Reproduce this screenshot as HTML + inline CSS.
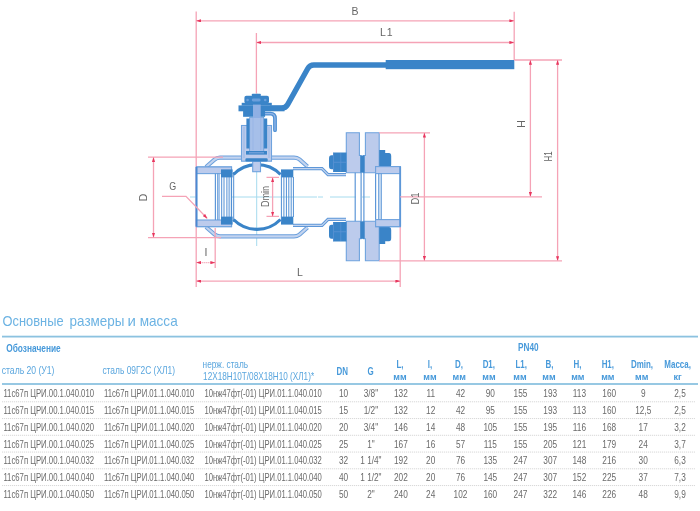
<!DOCTYPE html>
<html><head><meta charset="utf-8">
<style>
html,body{margin:0;padding:0;background:#fff;}
body{width:700px;height:511px;overflow:hidden;}
svg{display:block;will-change:transform;filter:blur(0.45px);font-family:"Liberation Sans",sans-serif;}
.r{stroke:#f5a3b6;stroke-width:1.3;fill:none;}
.c{stroke:#a6dbee;stroke-width:1;fill:none;}
.lb{fill:#bccbec;stroke:#6fa3de;stroke-width:1.1;}
.db{fill:#3a84c8;}
.ol{fill:none;stroke:#5d97d8;stroke-width:1.2;}
.lab{fill:#666;font-size:10.5px;}
.hd{fill:#4699da;font-weight:bold;}
.hn{fill:#5aa6de;}
.v{fill:#6a6a6a;font-size:10.1px;}
</style></head><body>
<svg width="700" height="511" viewBox="0 0 700 511">
<defs>
<marker id="ae" viewBox="0 0 6 4" refX="6" refY="2" markerWidth="5" markerHeight="3.2" orient="auto" markerUnits="userSpaceOnUse"><path d="M0,0 L6,2 L0,4 z" fill="#e8365e"/></marker>
<marker id="as" viewBox="0 0 6 4" refX="0" refY="2" markerWidth="5" markerHeight="3.2" orient="auto" markerUnits="userSpaceOnUse"><path d="M6,0 L0,2 L6,4 z" fill="#e8365e"/></marker>
</defs>

<!-- ============ DRAWING ============ -->
<path class="r" d="M196.2 11.5 V287 M400.2 226.6 V287"/>
<!-- center lines -->
<path class="c" d="M190 197 H317 M318 197 H323 M330 197 H356 M362 197 H370 M377 197 H401"/>
<path class="c" d="M256.7 93 V246"/>

<!-- body shell -->
<g fill="none" stroke-linecap="butt">
<path d="M206 167 L214.5 159.6 Q216.8 157.6 220 157.6 H243 M270 157.6 H294 Q297 157.6 299.5 159.4 L307.5 166.5 M206 227 L214.5 234.4 Q216.8 236.4 220 236.4 H294 Q297 236.4 299.5 234.6 L307.5 227.5" stroke="#6a9fdc" stroke-width="4.2"/>
<path d="M206 167 L214.5 159.6 Q216.8 157.6 220 157.6 H243 M270 157.6 H294 Q297 157.6 299.5 159.4 L307.5 166.5 M206 227 L214.5 234.4 Q216.8 236.4 220 236.4 H294 Q297 236.4 299.5 234.6 L307.5 227.5" stroke="#c3d4ef" stroke-width="2.2"/>
<!-- pipe neck -->
<path d="M293 168.7 H322 L328 174.7 H346 M293 225.3 H322 L328 219.3 H346" stroke="#5d97d8" stroke-width="3.2"/>
<path d="M293 168.7 H322 L328 174.7 H346 M293 225.3 H322 L328 219.3 H346" stroke="#c3d4ef" stroke-width="1.2"/>
</g>

<!-- left end cap -->
<rect x="196.5" y="167" width="35" height="59.6" fill="#fff" stroke="#5d97d8" stroke-width="1.2"/>
<rect x="196.5" y="167" width="35" height="6.6" class="lb"/>
<rect x="196.5" y="220" width="35" height="6.6" class="lb"/>
<path d="M196.5 167 V226.6" stroke="#4a8ad2" stroke-width="2" fill="none"/>
<path class="ol" d="M215.4 173.6 V220 M217.8 173.6 V220"/>

<!-- left seat -->
<rect x="221" y="169.4" width="11.6" height="8" class="db"/>
<rect x="221" y="216.6" width="11.6" height="8" class="db"/>
<path d="M221.7 177 V217 M224 177 V217 M226.9 177 V217 M229.1 177 V217 M231.4 177 V217 M233.7 172 V222" stroke="#4f8ed4" stroke-width="1" fill="none"/>
<path d="M219.2 173.6 V220" stroke="#6a9fdc" stroke-width="0.9" fill="none"/>
<!-- right seat -->
<rect x="281" y="169.4" width="12.3" height="8" class="db"/>
<rect x="281" y="216.6" width="12.3" height="8" class="db"/>
<path d="M281.4 172 V222 M283.9 177 V217 M286.4 177 V217 M288.8 177 V217 M291.2 177 V217 M293.4 177 V217" stroke="#4f8ed4" stroke-width="1" fill="none"/>

<!-- ball -->
<path d="M233.5 174.5 A33 33 0 0 1 280.5 174.5 M233.5 219.5 A33 33 0 0 0 280.5 219.5" fill="none" stroke="#3a84c8" stroke-width="3.2"/>

<!-- stem bottom -->
<rect x="252.7" y="161.4" width="7.8" height="10.3" class="lb"/>
<!-- bonnet -->
<rect x="241.5" y="125.5" width="30" height="35.7" class="lb"/>
<path d="M244 127 V158 M269 127 V158" stroke="#8fb3e6" stroke-width="0.8" fill="none"/>
<rect x="246.4" y="118.5" width="20.8" height="30" class="db"/>
<rect x="249.7" y="117.5" width="14.1" height="34" fill="#a6bfe9" stroke="#5d97d8" stroke-width="0.7"/>
<path d="M253 118 V150 M260.7 118 V150" stroke="#94b3e6" stroke-width="0.7" fill="none"/>
<rect x="246" y="151" width="21" height="3.6" class="db"/>
<rect x="249" y="152.4" width="15" height="0.9" fill="#8fb0e4"/>
<rect x="245.4" y="158.3" width="22.3" height="3.2" rx="1.2" class="db"/>
<!-- hook -->
<path d="M262 113.6 H270.5 Q275 113.6 275 118.5 V130.2" fill="none" stroke="#4d8fd3" stroke-width="3.8" stroke-linecap="round"/>
<path d="M264 113.6 H270.5 Q275 113.6 275 118.5 V130.2" fill="none" stroke="#92b6e8" stroke-width="1.3" stroke-linecap="round"/>
<!-- under-plate block -->
<rect x="243.1" y="111" width="22" height="5.8" class="db"/>
<!-- handle plate -->
<rect x="238.5" y="105.4" width="46" height="5.9" class="db"/>
<rect x="241.7" y="102.8" width="30.1" height="2.8" class="db"/>
<rect x="244.4" y="95.8" width="24.6" height="7.6" rx="2" class="db"/>
<rect x="251.8" y="93.7" width="9" height="2.6" rx="0.8" class="db"/>
<g fill="#6b9fdc"><circle cx="247.6" cy="100" r="1.3"/><circle cx="265.2" cy="100" r="1.3"/><rect x="251.8" y="98.6" width="8.8" height="2.8" rx="1.3"/></g>
<!-- handle -->
<path d="M270 108.2 H281.6 Q285.6 108.2 287.6 104.7 L307.8 68.5 Q309.8 65 313.8 65 H390" fill="none" stroke="#3a84c8" stroke-width="5.4" stroke-linejoin="round"/>
<rect x="253" y="104.6" width="7.7" height="13.4" fill="#8fb0e4"/>
<rect x="385.7" y="60" width="128.6" height="9.2" class="db"/>

<!-- flanges -->
<path d="M346.3 132.8 H359.4 V155.5 H361 V172.7 H346.3 Z" class="lb"/>
<path d="M365.4 132.8 H379.2 V172.7 H363.5 V155.5 H365.4 Z" class="lb"/>
<path d="M346.3 260.7 H359.4 V238.8 H361 V221.3 H346.3 Z" class="lb"/>
<path d="M365.4 260.7 H379.2 V221.3 H363.5 V238.8 H365.4 Z" class="lb"/>
<rect x="360.3" y="155.5" width="4.4" height="17.2" class="db"/>
<rect x="360.3" y="221.3" width="4.4" height="17.5" class="db"/>
<!-- bore lines -->
<path class="ol" d="M355.2 172.7 V221.3 M361.1 172.7 V221.3 M363.9 172.7 V221.3"/>

<!-- nuts -->
<g class="db">
<path d="M333 152.5 H346.5 V172 H333 Z"/>
<path d="M333 155.3 H331.5 Q329 155.3 329 158.5 V166 Q329 169.2 331.5 169.2 H333 Z"/>
<path d="M333 222 H346.5 V241.5 H333 Z"/>
<path d="M333 224.8 H331.5 Q329 224.8 329 228 V235.5 Q329 238.7 331.5 238.7 H333 Z"/>
</g>
<g fill="#5b93d4"><rect x="333.2" y="153" width="0.8" height="18.5"/><rect x="334" y="161.8" width="12" height="0.8"/><rect x="340.5" y="153" width="0.7" height="18.5"/>
<rect x="333.2" y="222.5" width="0.8" height="18.5"/><rect x="334" y="231.4" width="12" height="0.8"/><rect x="340.5" y="222.5" width="0.7" height="18.5"/></g>
<rect x="379.2" y="150" width="6" height="17" class="db"/>
<path d="M385 153 H389 Q391.2 153 391.2 156 V164 Q391.2 167.3 389 167.3 H385 Z" class="db"/>
<rect x="379.2" y="227" width="6" height="17" class="db"/>
<path d="M385 227 H389 Q391.2 227 391.2 230 V238 Q391.2 241.3 389 241.3 H385 Z" class="db"/>

<!-- right end fitting -->
<rect x="375.6" y="166.6" width="24.6" height="60" fill="#fff" stroke="#5d97d8" stroke-width="1.2"/>
<rect x="375.6" y="166.6" width="24.6" height="7" class="lb"/>
<rect x="375.6" y="219.6" width="24.6" height="7" class="lb"/>
<path class="ol" d="M378.8 173.6 V219.6 M381.2 173.6 V219.6"/>
<path d="M400.2 166.6 V226.6" stroke="#5d97d8" stroke-width="1.8" fill="none"/>

<!-- ============ DIMENSIONS ============ -->
<g class="r">
<path d="M514.2 11.7 V60"/>
<path d="M196.2 20.8 H514.2" marker-start="url(#as)" marker-end="url(#ae)"/>
<path d="M256.4 33 V93.5"/>
<path d="M256.4 42.5 H514.2" marker-start="url(#as)" marker-end="url(#ae)"/>
<path d="M514.2 60 H562"/>
<path d="M530.4 60 V196.8" marker-start="url(#as)" marker-end="url(#ae)"/>
<path d="M557.6 60 V261" marker-start="url(#as)" marker-end="url(#ae)"/>
<path d="M400.2 196.8 H542"/>
<path d="M379.2 260.8 H562"/>
<path d="M379.2 132.8 H430"/>
<path d="M424.4 132.8 V260.8" marker-start="url(#as)" marker-end="url(#ae)"/>
<path d="M148 157.2 H223 M148 237.6 H221"/>
<path d="M153.5 157.2 V237.6" marker-start="url(#as)" marker-end="url(#ae)"/>
<path d="M162 196.3 H186 L207.3 218.5" marker-end="url(#ae)"/>
<path d="M215.2 228 V268"/>
<path d="M196.2 262.6 H215.2" stroke-dasharray="1.2 0.8" marker-start="url(#as)" marker-end="url(#ae)"/>
<path d="M196.2 281.1 H400.2" marker-start="url(#as)" marker-end="url(#ae)"/>
<path d="M266.5 177.4 H279 M266.5 216.4 H279"/>
<path d="M272.6 177.4 V216.4" marker-start="url(#as)" marker-end="url(#ae)"/>
</g>

<!-- labels -->
<g class="lab">
<text x="351.6" y="14.9">B</text>
<text x="380" y="36.4" letter-spacing="0.8">L1</text>
<text transform="translate(524.8,124) rotate(-90)" text-anchor="middle">H</text>
<text transform="translate(551.5,156.5) rotate(-90) scale(0.75,1)" text-anchor="middle">H1</text>
<text transform="translate(419.3,198.5) rotate(-90) scale(0.9,1)" text-anchor="middle">D1</text>
<text transform="translate(147.3,197.5) rotate(-90)" text-anchor="middle">D</text>
<text transform="translate(268.6,196.6) rotate(-90) scale(0.86,1)" text-anchor="middle">Dmin</text>
<text transform="translate(172.6,190.2) scale(0.85,1)" text-anchor="middle">G</text>
<text x="204.6" y="255.7">I</text>
<text x="297" y="275.6">L</text>
</g>

<!-- ============ TABLE ============ -->
<g fill="#6cb3e3" font-size="14.6">
<text x="2.6" y="326.4" textLength="61" lengthAdjust="spacingAndGlyphs">Основные</text>
<text x="69.6" y="326.4" textLength="54.8" lengthAdjust="spacingAndGlyphs">размеры</text>
<text x="127.6" y="326.4" textLength="8.4" lengthAdjust="spacingAndGlyphs">и</text>
<text x="139.7" y="326.4" textLength="38" lengthAdjust="spacingAndGlyphs">масса</text>
</g>
<rect x="2" y="335.7" width="696" height="1.8" fill="#8cc2e0"/>
<rect x="2" y="383.1" width="696" height="1.8" fill="#8cc2e0"/>

<g font-size="10.1">
<text class="hd" x="6.2" y="351.6" textLength="54.5" lengthAdjust="spacingAndGlyphs">Обозначение</text>
<text class="hd" x="518" y="350.7" textLength="20.5" lengthAdjust="spacingAndGlyphs">PN40</text>
<text class="hn" x="1.7" y="373.7" textLength="52.8" lengthAdjust="spacingAndGlyphs">сталь 20 (У1)</text>
<text class="hn" x="102.4" y="374.4" textLength="72.6" lengthAdjust="spacingAndGlyphs">сталь 09Г2С (ХЛ1)</text>
<text class="hn" x="202.6" y="367.5" textLength="45.5" lengthAdjust="spacingAndGlyphs">нерж. сталь</text>
<text class="hn" x="203.1" y="380.3" textLength="111" lengthAdjust="spacingAndGlyphs">12X18H10T/08X18H10 (ХЛ1)*</text>
</g>
<g class="hd" font-size="10.2" text-anchor="middle">
<text transform="translate(342.3,375.1) scale(0.78,1)">DN</text>
<text transform="translate(370.5,375.1) scale(0.78,1)">G</text>
<text transform="translate(400,368.3) scale(0.78,1)">L,</text>
<text transform="translate(430,368.3) scale(0.78,1)">l,</text>
<text transform="translate(459,368.3) scale(0.78,1)">D,</text>
<text transform="translate(488.8,368.3) scale(0.78,1)">D1,</text>
<text transform="translate(521.2,368.0) scale(0.78,1)">L1,</text>
<text transform="translate(549.5,368.0) scale(0.78,1)">B,</text>
<text transform="translate(577.5,368.0) scale(0.78,1)">H,</text>
<text transform="translate(607.8,368.0) scale(0.78,1)">H1,</text>
<text transform="translate(642,368.0) scale(0.78,1)">Dmin,</text>
<text transform="translate(677.6,368.0) scale(0.78,1)">Масса,</text>
</g>
<g class="hd" font-size="9" text-anchor="middle">
<text transform="translate(400,380) scale(1,1)">мм</text>
<text transform="translate(430,380) scale(1,1)">мм</text>
<text transform="translate(459.2,380) scale(1,1)">мм</text>
<text transform="translate(489,380) scale(1,1)">мм</text>
<text transform="translate(520,380) scale(1,1)">мм</text>
<text transform="translate(549,380) scale(1,1)">мм</text>
<text transform="translate(577.8,380) scale(1,1)">мм</text>
<text transform="translate(607.8,380) scale(1,1)">мм</text>
<text transform="translate(641.7,380) scale(1,1)">мм</text>
<text transform="translate(677.6,380) scale(1,1)">кг</text>
</g>

<g id="rows" class="v">
<text x="3.4" y="397.4" textLength="90.6" lengthAdjust="spacingAndGlyphs">11с67п ЦРИ.00.1.040.010</text>
<text x="104" y="397.4" textLength="90.4" lengthAdjust="spacingAndGlyphs">11с67п ЦРИ.01.1.040.010</text>
<text x="204.4" y="397.4" textLength="117.5" lengthAdjust="spacingAndGlyphs">10нж47фт(-01) ЦРИ.01.1.040.010</text>
<text text-anchor="middle" transform="translate(343.6,397.4) scale(0.82,1)">10</text>
<text text-anchor="middle" transform="translate(370.9,397.4) scale(0.82,1)">3/8&quot;</text>
<text text-anchor="middle" transform="translate(400.9,397.4) scale(0.82,1)">132</text>
<text text-anchor="middle" transform="translate(430.7,397.4) scale(0.82,1)">11</text>
<text text-anchor="middle" transform="translate(460.5,397.4) scale(0.82,1)">42</text>
<text text-anchor="middle" transform="translate(490.3,397.4) scale(0.82,1)">90</text>
<text text-anchor="middle" transform="translate(520.5,397.4) scale(0.82,1)">155</text>
<text text-anchor="middle" transform="translate(550.2,397.4) scale(0.82,1)">193</text>
<text text-anchor="middle" transform="translate(579.4,397.4) scale(0.82,1)">113</text>
<text text-anchor="middle" transform="translate(609.2,397.4) scale(0.82,1)">160</text>
<text text-anchor="middle" transform="translate(643.2,397.4) scale(0.82,1)">9</text>
<text text-anchor="middle" transform="translate(680.0,397.4) scale(0.82,1)">2,5</text>
<path d="M2 401.8 H695" stroke="#d4d4d4" stroke-width="0.9" stroke-dasharray="1.2 0.8" fill="none"/>
<text x="3.4" y="414.15" textLength="90.6" lengthAdjust="spacingAndGlyphs">11с67п ЦРИ.00.1.040.015</text>
<text x="104" y="414.15" textLength="90.4" lengthAdjust="spacingAndGlyphs">11с67п ЦРИ.01.1.040.015</text>
<text x="204.4" y="414.15" textLength="117.5" lengthAdjust="spacingAndGlyphs">10нж47фт(-01) ЦРИ.01.1.040.015</text>
<text text-anchor="middle" transform="translate(343.6,414.15) scale(0.82,1)">15</text>
<text text-anchor="middle" transform="translate(370.9,414.15) scale(0.82,1)">1/2&quot;</text>
<text text-anchor="middle" transform="translate(400.9,414.15) scale(0.82,1)">132</text>
<text text-anchor="middle" transform="translate(430.7,414.15) scale(0.82,1)">12</text>
<text text-anchor="middle" transform="translate(460.5,414.15) scale(0.82,1)">42</text>
<text text-anchor="middle" transform="translate(490.3,414.15) scale(0.82,1)">95</text>
<text text-anchor="middle" transform="translate(520.5,414.15) scale(0.82,1)">155</text>
<text text-anchor="middle" transform="translate(550.2,414.15) scale(0.82,1)">193</text>
<text text-anchor="middle" transform="translate(579.4,414.15) scale(0.82,1)">113</text>
<text text-anchor="middle" transform="translate(609.2,414.15) scale(0.82,1)">160</text>
<text text-anchor="middle" transform="translate(643.2,414.15) scale(0.82,1)">12,5</text>
<text text-anchor="middle" transform="translate(680.0,414.15) scale(0.82,1)">2,5</text>
<path d="M2 418.55 H695" stroke="#d4d4d4" stroke-width="0.9" stroke-dasharray="1.2 0.8" fill="none"/>
<text x="3.4" y="430.9" textLength="90.6" lengthAdjust="spacingAndGlyphs">11с67п ЦРИ.00.1.040.020</text>
<text x="104" y="430.9" textLength="90.4" lengthAdjust="spacingAndGlyphs">11с67п ЦРИ.01.1.040.020</text>
<text x="204.4" y="430.9" textLength="117.5" lengthAdjust="spacingAndGlyphs">10нж47фт(-01) ЦРИ.01.1.040.020</text>
<text text-anchor="middle" transform="translate(343.6,430.9) scale(0.82,1)">20</text>
<text text-anchor="middle" transform="translate(370.9,430.9) scale(0.82,1)">3/4&quot;</text>
<text text-anchor="middle" transform="translate(400.9,430.9) scale(0.82,1)">146</text>
<text text-anchor="middle" transform="translate(430.7,430.9) scale(0.82,1)">14</text>
<text text-anchor="middle" transform="translate(460.5,430.9) scale(0.82,1)">48</text>
<text text-anchor="middle" transform="translate(490.3,430.9) scale(0.82,1)">105</text>
<text text-anchor="middle" transform="translate(520.5,430.9) scale(0.82,1)">155</text>
<text text-anchor="middle" transform="translate(550.2,430.9) scale(0.82,1)">195</text>
<text text-anchor="middle" transform="translate(579.4,430.9) scale(0.82,1)">116</text>
<text text-anchor="middle" transform="translate(609.2,430.9) scale(0.82,1)">168</text>
<text text-anchor="middle" transform="translate(643.2,430.9) scale(0.82,1)">17</text>
<text text-anchor="middle" transform="translate(680.0,430.9) scale(0.82,1)">3,2</text>
<path d="M2 435.3 H695" stroke="#d4d4d4" stroke-width="0.9" stroke-dasharray="1.2 0.8" fill="none"/>
<text x="3.4" y="447.65" textLength="90.6" lengthAdjust="spacingAndGlyphs">11с67п ЦРИ.00.1.040.025</text>
<text x="104" y="447.65" textLength="90.4" lengthAdjust="spacingAndGlyphs">11с67п ЦРИ.01.1.040.025</text>
<text x="204.4" y="447.65" textLength="117.5" lengthAdjust="spacingAndGlyphs">10нж47фт(-01) ЦРИ.01.1.040.025</text>
<text text-anchor="middle" transform="translate(343.6,447.65) scale(0.82,1)">25</text>
<text text-anchor="middle" transform="translate(370.9,447.65) scale(0.82,1)">1&quot;</text>
<text text-anchor="middle" transform="translate(400.9,447.65) scale(0.82,1)">167</text>
<text text-anchor="middle" transform="translate(430.7,447.65) scale(0.82,1)">16</text>
<text text-anchor="middle" transform="translate(460.5,447.65) scale(0.82,1)">57</text>
<text text-anchor="middle" transform="translate(490.3,447.65) scale(0.82,1)">115</text>
<text text-anchor="middle" transform="translate(520.5,447.65) scale(0.82,1)">155</text>
<text text-anchor="middle" transform="translate(550.2,447.65) scale(0.82,1)">205</text>
<text text-anchor="middle" transform="translate(579.4,447.65) scale(0.82,1)">121</text>
<text text-anchor="middle" transform="translate(609.2,447.65) scale(0.82,1)">179</text>
<text text-anchor="middle" transform="translate(643.2,447.65) scale(0.82,1)">24</text>
<text text-anchor="middle" transform="translate(680.0,447.65) scale(0.82,1)">3,7</text>
<path d="M2 452.05 H695" stroke="#d4d4d4" stroke-width="0.9" stroke-dasharray="1.2 0.8" fill="none"/>
<text x="3.4" y="464.4" textLength="90.6" lengthAdjust="spacingAndGlyphs">11с67п ЦРИ.00.1.040.032</text>
<text x="104" y="464.4" textLength="90.4" lengthAdjust="spacingAndGlyphs">11с67п ЦРИ.01.1.040.032</text>
<text x="204.4" y="464.4" textLength="117.5" lengthAdjust="spacingAndGlyphs">10нж47фт(-01) ЦРИ.01.1.040.032</text>
<text text-anchor="middle" transform="translate(343.6,464.4) scale(0.82,1)">32</text>
<text text-anchor="middle" transform="translate(370.9,464.4) scale(0.82,1)">1 1/4&quot;</text>
<text text-anchor="middle" transform="translate(400.9,464.4) scale(0.82,1)">192</text>
<text text-anchor="middle" transform="translate(430.7,464.4) scale(0.82,1)">20</text>
<text text-anchor="middle" transform="translate(460.5,464.4) scale(0.82,1)">76</text>
<text text-anchor="middle" transform="translate(490.3,464.4) scale(0.82,1)">135</text>
<text text-anchor="middle" transform="translate(520.5,464.4) scale(0.82,1)">247</text>
<text text-anchor="middle" transform="translate(550.2,464.4) scale(0.82,1)">307</text>
<text text-anchor="middle" transform="translate(579.4,464.4) scale(0.82,1)">148</text>
<text text-anchor="middle" transform="translate(609.2,464.4) scale(0.82,1)">216</text>
<text text-anchor="middle" transform="translate(643.2,464.4) scale(0.82,1)">30</text>
<text text-anchor="middle" transform="translate(680.0,464.4) scale(0.82,1)">6,3</text>
<path d="M2 468.8 H695" stroke="#d4d4d4" stroke-width="0.9" stroke-dasharray="1.2 0.8" fill="none"/>
<text x="3.4" y="481.15" textLength="90.6" lengthAdjust="spacingAndGlyphs">11с67п ЦРИ.00.1.040.040</text>
<text x="104" y="481.15" textLength="90.4" lengthAdjust="spacingAndGlyphs">11с67п ЦРИ.01.1.040.040</text>
<text x="204.4" y="481.15" textLength="117.5" lengthAdjust="spacingAndGlyphs">10нж47фт(-01) ЦРИ.01.1.040.040</text>
<text text-anchor="middle" transform="translate(343.6,481.15) scale(0.82,1)">40</text>
<text text-anchor="middle" transform="translate(370.9,481.15) scale(0.82,1)">1 1/2&quot;</text>
<text text-anchor="middle" transform="translate(400.9,481.15) scale(0.82,1)">202</text>
<text text-anchor="middle" transform="translate(430.7,481.15) scale(0.82,1)">20</text>
<text text-anchor="middle" transform="translate(460.5,481.15) scale(0.82,1)">76</text>
<text text-anchor="middle" transform="translate(490.3,481.15) scale(0.82,1)">145</text>
<text text-anchor="middle" transform="translate(520.5,481.15) scale(0.82,1)">247</text>
<text text-anchor="middle" transform="translate(550.2,481.15) scale(0.82,1)">307</text>
<text text-anchor="middle" transform="translate(579.4,481.15) scale(0.82,1)">152</text>
<text text-anchor="middle" transform="translate(609.2,481.15) scale(0.82,1)">225</text>
<text text-anchor="middle" transform="translate(643.2,481.15) scale(0.82,1)">37</text>
<text text-anchor="middle" transform="translate(680.0,481.15) scale(0.82,1)">7,3</text>
<path d="M2 485.55 H695" stroke="#d4d4d4" stroke-width="0.9" stroke-dasharray="1.2 0.8" fill="none"/>
<text x="3.4" y="497.9" textLength="90.6" lengthAdjust="spacingAndGlyphs">11с67п ЦРИ.00.1.040.050</text>
<text x="104" y="497.9" textLength="90.4" lengthAdjust="spacingAndGlyphs">11с67п ЦРИ.01.1.040.050</text>
<text x="204.4" y="497.9" textLength="117.5" lengthAdjust="spacingAndGlyphs">10нж47фт(-01) ЦРИ.01.1.040.050</text>
<text text-anchor="middle" transform="translate(343.6,497.9) scale(0.82,1)">50</text>
<text text-anchor="middle" transform="translate(370.9,497.9) scale(0.82,1)">2&quot;</text>
<text text-anchor="middle" transform="translate(400.9,497.9) scale(0.82,1)">240</text>
<text text-anchor="middle" transform="translate(430.7,497.9) scale(0.82,1)">24</text>
<text text-anchor="middle" transform="translate(460.5,497.9) scale(0.82,1)">102</text>
<text text-anchor="middle" transform="translate(490.3,497.9) scale(0.82,1)">160</text>
<text text-anchor="middle" transform="translate(520.5,497.9) scale(0.82,1)">247</text>
<text text-anchor="middle" transform="translate(550.2,497.9) scale(0.82,1)">322</text>
<text text-anchor="middle" transform="translate(579.4,497.9) scale(0.82,1)">146</text>
<text text-anchor="middle" transform="translate(609.2,497.9) scale(0.82,1)">226</text>
<text text-anchor="middle" transform="translate(643.2,497.9) scale(0.82,1)">48</text>
<text text-anchor="middle" transform="translate(680.0,497.9) scale(0.82,1)">9,9</text>
</g>
</svg>
</body></html>
